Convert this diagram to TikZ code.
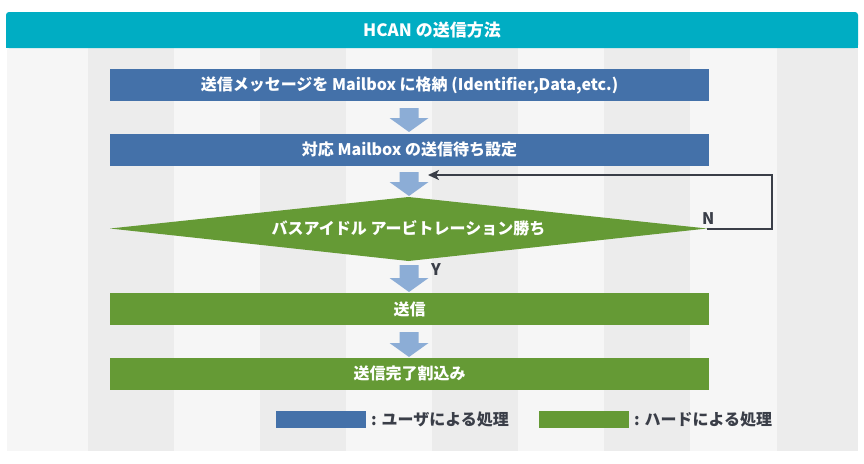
\documentclass[tikz,border=0pt]{standalone}
\usepackage{fontspec}
\setmainfont{Noto Sans CJK JP}
\usetikzlibrary{arrows.meta}
\definecolor{teal}{HTML}{00ADC3}
\definecolor{ublue}{HTML}{4471A9}
\definecolor{hgreen}{HTML}{659A35}
\definecolor{arr}{HTML}{8CADD6}
\definecolor{stripeA}{HTML}{F6F6F6}
\definecolor{stripeB}{HTML}{ECECEC}
\definecolor{ink}{HTML}{3A3E48}
\tikzset{
  txt/.style={font=\bfseries\fontsize{16}{18}\selectfont},
  stepbox/.style={minimum width=599pt, minimum height=32pt, inner sep=0pt, text=white, txt},
  userbox/.style={stepbox, fill=ublue},
  hwbox/.style={stepbox, fill=hgreen},
  lbl/.style={text=ink, txt, inner sep=0pt},
}
\newcommand{\blockarrow}[3]{% x, ytop, ybottom
  \fill[arr] (#1-9.5,#2) -- (#1+9.5,#2) -- (#1+9.5,#3-14) -- (#1+19.5,#3-14) -- (#1,#3) -- (#1-19.5,#3-14) -- (#1-9.5,#3-14) -- cycle;}
\begin{document}
\begin{tikzpicture}[x=1pt,y=-1pt]
\useasboundingbox (0,0) rectangle (864,463);
\fill[white] (0,0) rectangle (864,463);
% stripes
\foreach \a/\b/\c in {7/88/stripeA,88/174/stripeB,174/260/stripeA,260/346/stripeB,346/432/stripeA,432/518/stripeB,518/604/stripeA,604/690/stripeB,690/777/stripeA,777/858/stripeB}
  \fill[\c] (\a,48) rectangle (\b,451);
% header
\fill[teal, rounded corners=3pt] (6,48) -- (6,12) -- (858,12) -- (858,48) -- cycle;
\fill[teal] (6,40) rectangle (858,48);
\node[text=white, font=\bfseries\fontsize{17}{19}\selectfont] (title) at (432,30) {HCAN の送信方法};
% boxes
\node[userbox] (b1) at (409.5,85) {送信メッセージを Mailbox に格納 (Identifier,Data,etc.)};
\node[userbox] (b2) at (409.5,149.5) {対応 Mailbox の送信待ち設定};
\fill[hgreen] (110,228.5) -- (408.5,197) -- (707,228.5) -- (408.5,261) -- cycle;
\node[text=white, txt] (d) at (408.5,228.5) {バスアイドル アービトレーション勝ち};
\coordinate (dr) at (707,228.5);
\coordinate (dt) at (428,175);
\node[hwbox] (b3) at (409.5,309) {送信};
\node[hwbox] (b4) at (409.5,373.5) {送信完了割込み};
% arrows
\blockarrow{409}{108}{132}
\blockarrow{409}{172}{196}
\blockarrow{409}{265}{292}
\blockarrow{409}{332}{357}
% loop
\draw[ink, line width=2pt, -{Stealth[length=11pt,width=10pt,inset=3pt]}] (dr) -- (772,228.5) -- (772,175) -- (dt);
\node[lbl, anchor=south west] (N) at (702,225) {N};
\node[lbl, anchor=north west] (Y) at (431,263) {Y};
% legend
\fill[ublue] (276,411) rectangle (366,428);
\node[lbl, anchor=west] (l1) at (371,419.5) {: ユーザによる処理};
\fill[hgreen] (539,411) rectangle (629,428);
\node[lbl, anchor=west] (l2) at (634,419.5) {: ハードによる処理};
\end{tikzpicture}
\end{document}
